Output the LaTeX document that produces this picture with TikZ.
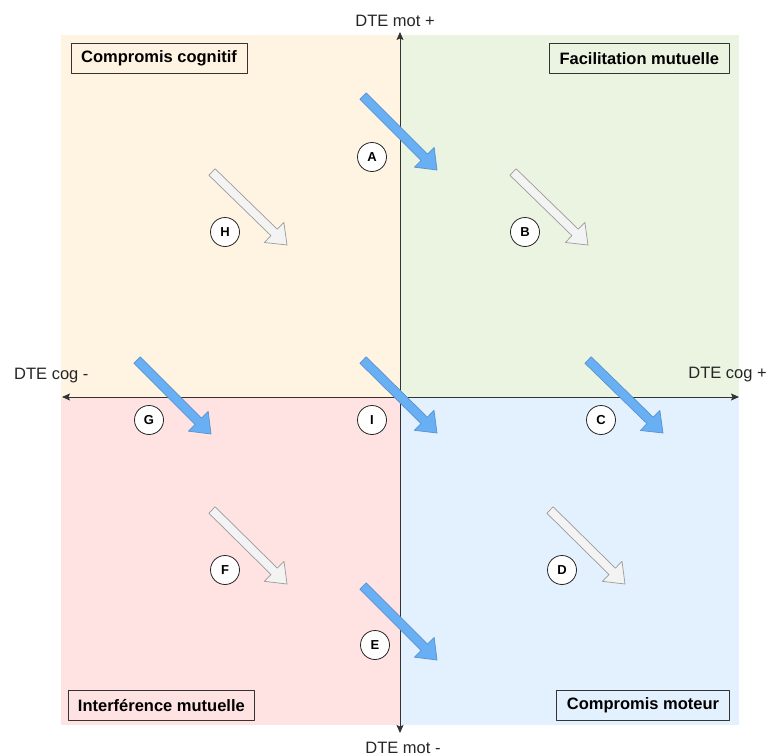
\documentclass[tikz,border=0pt]{standalone}
\usepackage{fontspec}
\setmainfont{Liberation Sans}
\usetikzlibrary{arrows.meta,calc}

\definecolor{cogbg}{HTML}{FFF3E1}
\definecolor{facbg}{HTML}{EBF4E1}
\definecolor{intbg}{HTML}{FFE2E2}
\definecolor{motbg}{HTML}{E3F0FE}
\definecolor{moveblue}{HTML}{68AFF3}
\definecolor{moveedge}{HTML}{5A93D0}
\definecolor{ghostfill}{HTML}{F3F3F3}
\definecolor{ghostedge}{HTML}{9A9A9A}

% fat arrow: #1 style, #2 tail, #3 tip
\newcommand{\fatarrow}[3]{%
  \coordinate (neck) at ($(#3)!\headlen!(#2)$);
  \draw[#1] ($(#2)!\shafthw!90:(#3)$) -- ($(neck)!\shafthw!90:(#3)$)
    -- ($(neck)!\headhw!90:(#3)$) -- (#3)
    -- ($(neck)!\headhw!-90:(#3)$) -- ($(neck)!\shafthw!-90:(#3)$)
    -- ($(#2)!\shafthw!-90:(#3)$) -- cycle;
}

\begin{document}
\begin{tikzpicture}[
    x=1pt, y=-1pt,
    line join=round,
    axis/.style={draw=black!80, line width=0.9pt, {Stealth[length=8pt,width=7pt,inset=1.5pt]}-{Stealth[length=8pt,width=7pt,inset=1.5pt]}},
    axislabel/.style={font=\fontsize{16.5}{18}\selectfont, text=black!85, inner sep=0pt},
    quadlabel/.style={draw=black!80, line width=0.9pt, font=\fontsize{16.5}{18}\selectfont\bfseries,
        inner xsep=10pt, inner ysep=0pt, minimum height=29.4pt},
    movearrow/.style={fill=moveblue, draw=moveedge, line width=0.7pt},
    ghostarrow/.style={fill=ghostfill, draw=ghostedge, line width=0.7pt},
    tag/.style={circle, draw=black!85, fill=white, line width=0.8pt, minimum size=29pt, inner sep=0pt,
        font=\fontsize{13}{14}\selectfont\bfseries}
]

% -----------------------
% Parameters
% -----------------------
\def\shafthw{4.5pt}
\def\headhw{14pt}
\def\headlen{18pt}

\useasboundingbox (0,0) rectangle (768,755);

% -----------------------
% Quadrants
% -----------------------
\fill[cogbg] (61,35) rectangle (400,397);
\fill[facbg] (400,35) rectangle (739,397);
\fill[intbg] (61,397) rectangle (400,725);
\fill[motbg] (400,397) rectangle (739,725);

% -----------------------
% Axes
% -----------------------
\coordinate (N) at (400,32);
\coordinate (S) at (400,733);
\coordinate (W) at (62,397);
\coordinate (E) at (739,397);

\draw[axis] (S) -- (N);
\draw[axis] (W) -- (E);

\node[axislabel, anchor=base] (motplus) at (395,26) {DTE mot +};
\node[axislabel, anchor=base] (motminus) at (403,753) {DTE mot -};
\node[axislabel, anchor=base west] (cogminus) at (14,379) {DTE cog -};
\node[axislabel, anchor=base east] (cogplus) at (767,378.5) {DTE cog +};

% -----------------------
% Quadrant labels
% -----------------------
\node[quadlabel, fill=cogbg, anchor=north west] (cogbox) at (70.7,43.3) {Compromis cognitif};
\node[quadlabel, fill=facbg, anchor=north east] (facbox) at (729.5,43.3) {Facilitation mutuelle};
\node[quadlabel, fill=intbg, anchor=south west] (intbox) at (67.5,720.5) {Interférence mutuelle};
\node[quadlabel, fill=motbg, anchor=south east] (motbox) at (729.5,720.5) {Compromis moteur};

% -----------------------
% Arrows
% -----------------------
\coordinate (Atail) at (363,96);  \coordinate (Atip) at (437,170);
\coordinate (Btail) at (513,172); \coordinate (Btip) at (588,245);
\coordinate (Ctail) at (588,360); \coordinate (Ctip) at (663,433);
\coordinate (Dtail) at (550,510); \coordinate (Dtip) at (625,584);
\coordinate (Etail) at (363,586); \coordinate (Etip) at (437,660);
\coordinate (Ftail) at (212,510); \coordinate (Ftip) at (287,584);
\coordinate (Gtail) at (137,360); \coordinate (Gtip) at (211,434);
\coordinate (Htail) at (212,172); \coordinate (Htip) at (287,245);
\coordinate (Itail) at (363,360); \coordinate (Itip) at (437,433);

\fatarrow{movearrow}{Atail}{Atip}
\fatarrow{ghostarrow}{Btail}{Btip}
\fatarrow{movearrow}{Ctail}{Ctip}
\fatarrow{ghostarrow}{Dtail}{Dtip}
\fatarrow{movearrow}{Etail}{Etip}
\fatarrow{ghostarrow}{Ftail}{Ftip}
\fatarrow{movearrow}{Gtail}{Gtip}
\fatarrow{ghostarrow}{Htail}{Htip}
\fatarrow{movearrow}{Itail}{Itip}

% -----------------------
% Tags
% -----------------------
\node[tag] (tagA) at (372,157) {A};
\node[tag] (tagB) at (525,232) {B};
\node[tag] (tagC) at (601,420) {C};
\node[tag] (tagD) at (562,570) {D};
\node[tag] (tagE) at (375,645) {E};
\node[tag] (tagF) at (225,570) {F};
\node[tag] (tagG) at (149,420) {G};
\node[tag] (tagH) at (225,232) {H};
\node[tag] (tagI) at (372,420) {I};

\end{tikzpicture}
\end{document}
